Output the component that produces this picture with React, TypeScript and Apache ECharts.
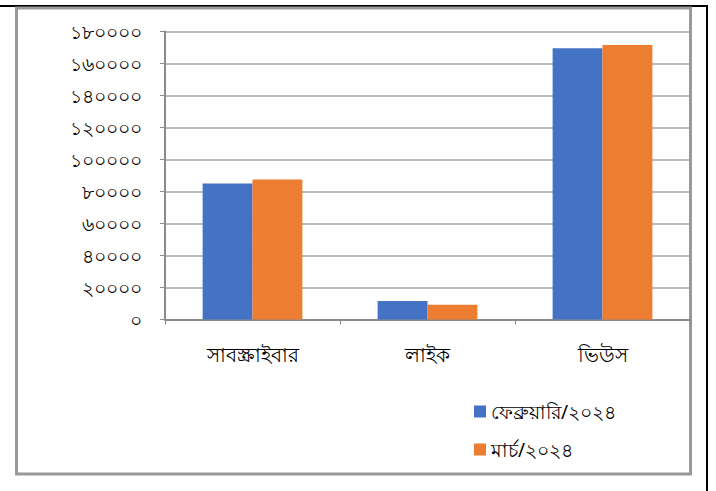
import React, { useEffect, useRef } from "react";
import * as echarts from "echarts";

const categories = ["সাবস্ক্রাইবার", "লাইক", "ভিউস"];
const seriesNames = ["ফেব্রুয়ারি/২০২৪", "মার্চ/২০২৪"];
const febValues = [85000, 11500, 169500];
const marValues = [87500, 9200, 171500];
const bengaliDigits = ["০", "১", "২", "৩", "৪", "৫", "৬", "৭", "৮", "৯"];

const toBengali = (v: number) =>
  String(v).replace(/[0-9]/g, (d) => bengaliDigits[Number(d)]);

export default function App() {
  const ref = useRef<HTMLDivElement>(null);
  useEffect(() => {
    if (!ref.current) return;
    const chart = echarts.init(ref.current, null, { renderer: "svg" });
    const font = "'Noto Sans', 'DejaVu Sans', sans-serif";
    chart.setOption({
      animation: false,
      backgroundColor: "#ffffff",
      textStyle: { fontFamily: font },
      graphic: [
        {
          type: "polyline",
          shape: { points: [[0, 6], [707, 6], [707, 491]] },
          style: { stroke: "#000000", lineWidth: 2, fill: "none" },
          z: 0,
        },
        {
          type: "rect",
          shape: { x: 16.5, y: 8, width: 674, height: 466 },
          style: { stroke: "#999999", lineWidth: 3, fill: "none" },
          z: 0,
        },
      ],
      grid: { left: 165, right: 26, top: 31.5, bottom: 171.5, containLabel: false },
      xAxis: {
        type: "category",
        data: categories,
        axisLine: { lineStyle: { color: "#8c8c8c", width: 2 } },
        axisTick: { show: true, length: 5, lineStyle: { color: "#8c8c8c", width: 1 } },
        axisLabel: { color: "#000000", fontSize: 19.5, margin: 25, fontFamily: font },
      },
      yAxis: {
        type: "value",
        min: 0,
        max: 180000,
        interval: 20000,
        axisLine: { show: true, lineStyle: { color: "#8c8c8c", width: 2 } },
        axisTick: { show: true, length: 5, lineStyle: { color: "#8c8c8c", width: 1 } },
        splitLine: { lineStyle: { color: "#a6a6a6", width: 1.5 } },
        axisLabel: {
          color: "#000000",
          fontSize: 18.5,
          margin: 23,
          fontFamily: font,
          formatter: (v: number) => toBengali(v),
        },
      },
      legend: {
        orient: "vertical",
        left: 469,
        top: 397,
        itemWidth: 12,
        itemHeight: 12,
        itemGap: 19,
        icon: "rect",
        textStyle: { color: "#000000", fontSize: 19, fontFamily: font },
        data: seriesNames,
      },
      series: [
        {
          name: seriesNames[0],
          type: "bar",
          data: febValues,
          barGap: "0%",
          barCategoryGap: "43%",
          itemStyle: { color: "#4472C4" },
        },
        {
          name: seriesNames[1],
          type: "bar",
          data: marValues,
          barGap: "0%",
          barCategoryGap: "43%",
          itemStyle: { color: "#ED7D31" },
        },
      ],
    });
    return () => chart.dispose();
  }, []);
  return (
    <div
      ref={ref}
      style={{ position: "absolute", left: 0, top: 0, width: 716, height: 491 }}
    />
  );
}
